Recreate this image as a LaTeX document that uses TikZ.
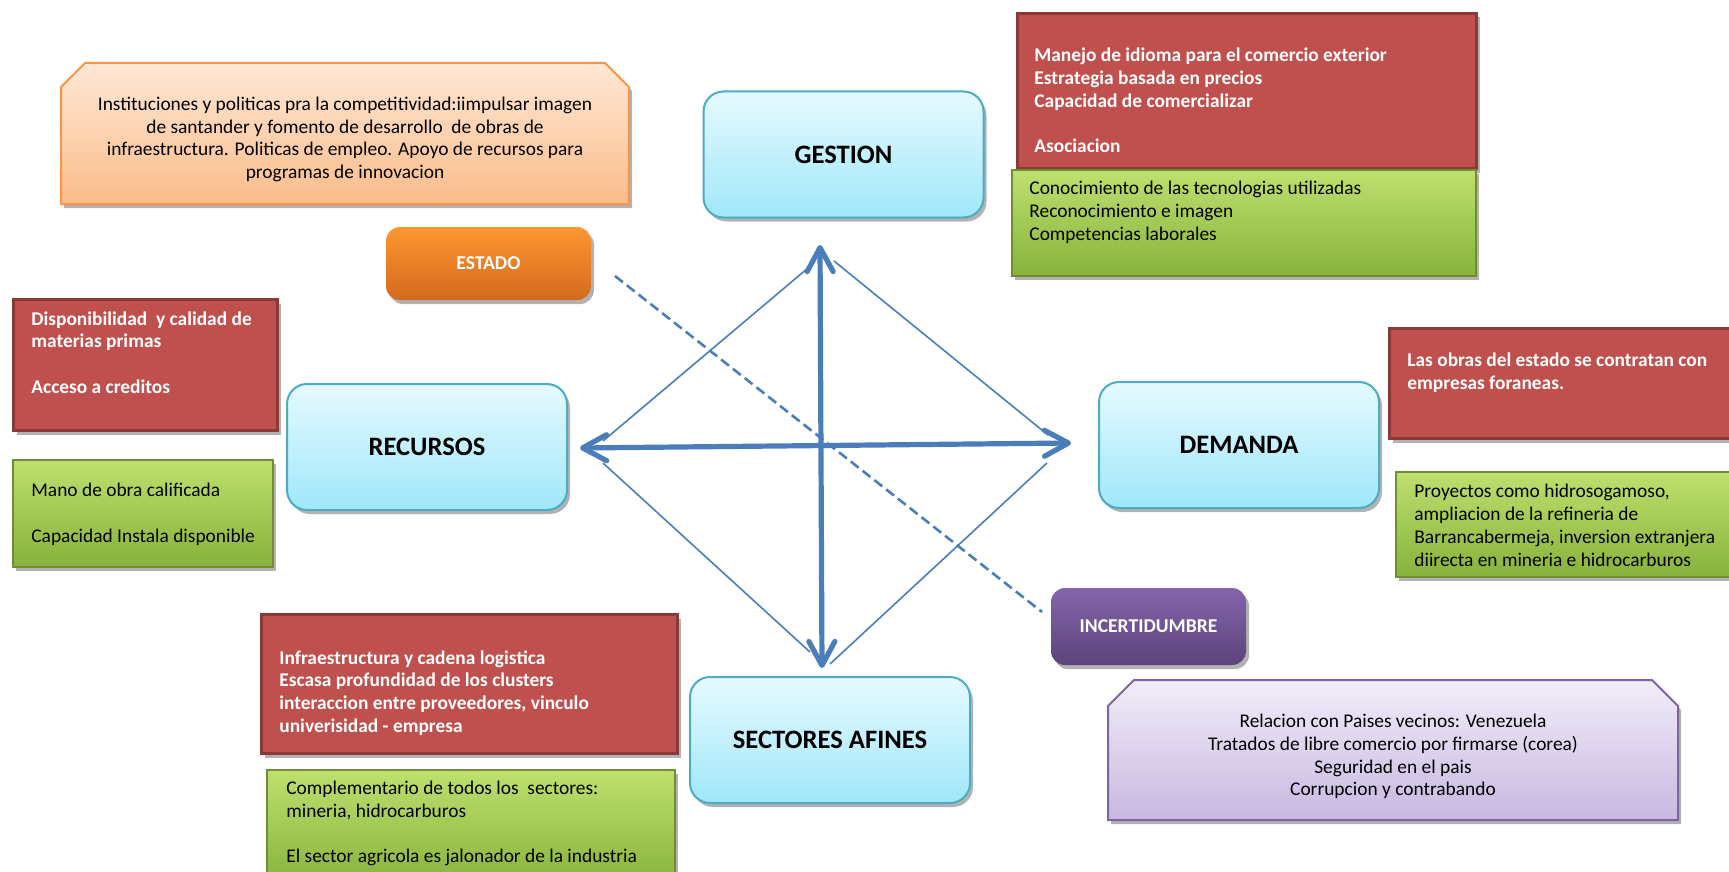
\documentclass[tikz,border=0pt]{standalone}
\usepackage{fontspec}
\setmainfont{Carlito}
\usetikzlibrary{shadows,arrows.meta}

\definecolor{cyanTop}{RGB}{230,250,255}
\definecolor{cyanBot}{RGB}{160,231,250}
\definecolor{cyanLine}{RGB}{75,172,198}
\definecolor{redFill}{RGB}{192,80,77}
\definecolor{redLine}{RGB}{140,56,54}
\definecolor{greenTop}{RGB}{190,224,110}
\definecolor{greenBot}{RGB}{135,178,60}
\definecolor{greenLine}{RGB}{113,140,52}
\definecolor{peachTop}{RGB}{255,232,214}
\definecolor{peachBot}{RGB}{250,188,138}
\definecolor{peachLine}{RGB}{247,150,70}
\definecolor{orangeTop}{RGB}{255,150,48}
\definecolor{orangeBot}{RGB}{210,106,30}
\definecolor{violetTop}{RGB}{132,100,172}
\definecolor{violetBot}{RGB}{92,68,122}
\definecolor{lilacTop}{RGB}{242,237,249}
\definecolor{lilacBot}{RGB}{200,184,224}
\definecolor{lilacLine}{RGB}{128,100,162}
\definecolor{axisBlue}{RGB}{74,126,187}

\tikzset{
  boxshadow/.style={drop shadow={shadow xshift=1.5pt, shadow yshift=-2pt, opacity=0.3, fill=black}},
  force/.style={rectangle, rounded corners=10pt, draw=cyanLine, line width=1pt,
    top color=cyanTop, bottom color=cyanBot, minimum width=140pt, minimum height=63pt,
    font=\fontsize{13.3}{16}\selectfont\bfseries, boxshadow},
  pill/.style={rectangle, rounded corners=7pt, draw=none, text=white,
    font=\fontsize{9.8}{11.4}\selectfont\bfseries, boxshadow},
  redbox/.style={rectangle, anchor=north west, fill=redFill, draw=redLine, line width=1.5pt,
    inner sep=0pt, boxshadow},
  greenbox/.style={rectangle, anchor=north west, top color=greenTop, bottom color=greenBot,
    draw=greenLine, line width=1pt, inner sep=0pt, boxshadow},
  redtext/.style={anchor=west, align=left, inner sep=0pt, text=white,
    font=\fontsize{9.7}{11.4}\selectfont\bfseries},
  greentext/.style={anchor=west, align=left, inner sep=0pt, text=black,
    font=\fontsize{9.7}{11.4}\selectfont},
  centertext/.style={align=center, inner sep=0pt, text=black,
    font=\fontsize{9.7}{11.4}\selectfont},
  axis/.style={draw=axisBlue, line width=2.6pt,
    {Straight Barb[length=12pt,width=13pt,round]}-{Straight Barb[length=12pt,width=13pt,round]}},
  rim/.style={draw=axisBlue, line width=0.8pt},
  cut/.style={draw=axisBlue, line width=1.3pt, dash pattern=on 5pt off 2.5pt}
}

\begin{document}
\begin{tikzpicture}[x=0.5pt,y=-0.5pt]
\fill[white] (0,0) rectangle (1729,872);
\useasboundingbox (0,0) rectangle (1729,872);

% state policies panel with cut top corners
\shade[top color=peachTop, bottom color=peachBot, draw=peachLine, line width=1pt, boxshadow]
  (61,204) -- (61,87) -- (85,63) -- (605,63) -- (629,87) -- (629,204) -- cycle;
\node[centertext] (instTxt) at (345,139.5) {Instituciones y politicas pra la competitividad:iimpulsar imagen\\
  de santander y fomento de desarrollo~ de obras de\\
  infraestructura. Politicas de empleo. Apoyo de recursos para\\
  programas de innovacion};

% uncertainty panel with cut top corners
\shade[top color=lilacTop, bottom color=lilacBot, draw=lilacLine, line width=1pt, boxshadow]
  (1108,820) -- (1108,706) -- (1134,680) -- (1652,680) -- (1678,706) -- (1678,820) -- cycle;
\node[centertext] (riskTxt) at (1393,756.5) {Relacion con Paises vecinos: Venezuela\\
  Tratados de libre comercio por firmarse (corea)\\
  Seguridad en el pais\\
  Corrupcion y contrabando};

% four determinants
\node[force] (gestion) at (843.5,154.5) {GESTION};
\node[force] (recursos) at (427,447) {RECURSOS};
\node[force] (demanda) at (1239,445) {DEMANDA};
\node[force] (sectores) at (830,740) {SECTORES AFINES};

% external factors
\node[pill, top color=orangeTop, bottom color=orangeBot, minimum width=102.5pt, minimum height=36.5pt]
  (estado) at (488.5,263.5) {ESTADO};
\node[pill, top color=violetTop, bottom color=violetBot, minimum width=97.5pt, minimum height=38.5pt]
  (incert) at (1148.5,626.5) {INCERTIDUMBRE};

% weaknesses (red) and strengths (green)
\node[redbox, minimum width=229.5pt, minimum height=77.5pt] (gestRed) at (1016,12) {};
\node[redtext] (gestRedTxt) at (1034,100.5) {Manejo de idioma para el comercio exterior\\
  Estrategia basada en precios\\
  Capacidad de comercializar\\[11.4pt]
  Asociacion};
\node[greenbox, minimum width=232pt, minimum height=53pt] (gestGreen) at (1011,169) {};
\node[greentext] (gestGreenTxt) at (1029,212.5) {Conocimiento de las tecnologias utilizadas\\
  Reconocimiento e imagen\\
  Competencias laborales};

\node[redbox, minimum width=132pt, minimum height=65.5pt] (recRed) at (12,298) {};
\node[redtext] (recRedTxt) at (31,352.5) {Disponibilidad~ y calidad de\\
  materias primas\\[11.4pt]
  Acceso a creditos};
\node[greenbox, minimum width=130pt, minimum height=53.5pt] (recGreen) at (12,459) {};
\node[greentext] (recGreenTxt) at (31,514.5) {Mano de obra calificada\\[11.4pt]
  Capacidad Instala disponible};

\node[redbox, minimum width=176pt, minimum height=55pt] (demRed) at (1388,327) {};
\node[redtext] (demRedTxt) at (1407,372.5) {Las obras del estado se contratan con\\
  empresas foraneas.};
\node[greenbox, minimum width=172.5pt, minimum height=52.5pt] (demGreen) at (1395,471) {};
\node[greentext] (demGreenTxt) at (1414,525.5) {Proyectos como hidrosogamoso,\\
  ampliacion de la refineria de\\
  Barrancabermeja, inversion extranjera\\
  diirecta en mineria e hidrocarburos};

\node[redbox, minimum width=208pt, minimum height=69.5pt] (secRed) at (260,613) {};
\node[redtext] (secRedTxt) at (279,693) {Infraestructura y cadena logistica\\
  Escasa profundidad de los clusters\\
  interaccion entre proveedores, vinculo\\
  univerisidad - empresa};
\node[greenbox, minimum width=204pt, minimum height=58pt] (secGreen) at (266,769) {};
\node[greentext] (secGreenTxt) at (286,823.5) {Complementario de todos los~ sectores:\\
  mineria, hidrocarburos\\[11.4pt]
  El sector agricola es jalonador de la industria};

% diamond frame and axes
\coordinate (vTop) at (820,245);
\coordinate (vBot) at (822,668);
\coordinate (hLeft) at (580,448);
\coordinate (hRight) at (1071,443);
\coordinate (tlA) at (808,268);  \coordinate (tlB) at (603,441);
\coordinate (trA) at (834,261);  \coordinate (trB) at (1048,435);
\coordinate (blA) at (603,463);  \coordinate (blB) at (810,652);
\coordinate (brA) at (1047,463); \coordinate (brB) at (830,664);
\coordinate (cutA) at (615,276); \coordinate (cutB) at (1042,612);

\draw[rim] (tlA) -- (tlB);
\draw[rim] (trA) -- (trB);
\draw[rim] (blA) -- (blB);
\draw[rim] (brA) -- (brB);
\draw[cut] (cutA) -- (cutB);
\draw[axis] (vTop) -- (vBot);
\draw[axis] (hLeft) -- (hRight);
\end{tikzpicture}
\end{document}
